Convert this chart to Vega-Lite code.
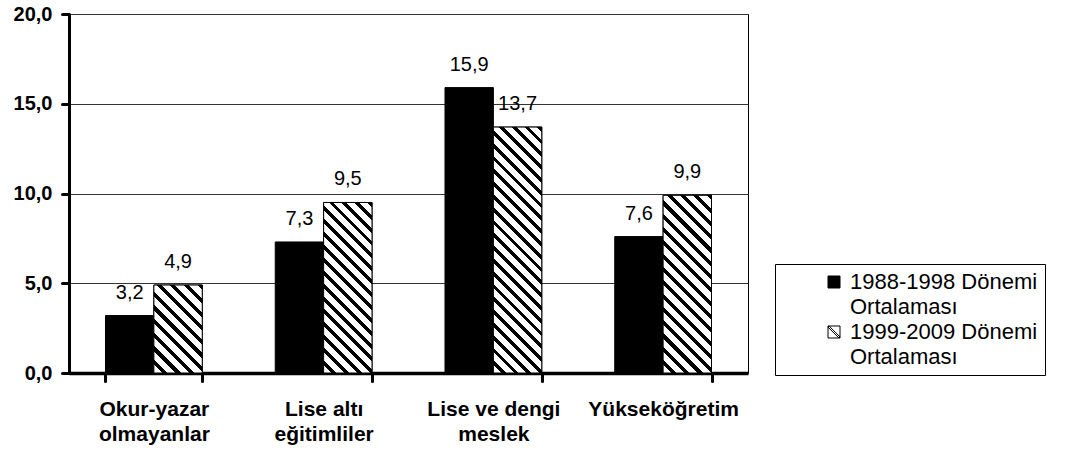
{
  "$schema": "https://vega.github.io/schema/vega-lite/v6.json",
  "width": 679,
  "height": 359,
  "autosize": {"type": "none"},
  "padding": {"left": 69, "top": 14, "right": 336, "bottom": 77},
  "background": "white",
  "config": {
    "locale": {"number": {"decimal": ",", "thousands": ".", "grouping": [3], "currency": ["", " TL"]}},
    "view": {"stroke": "black", "strokeWidth": 1},
    "font": "Liberation Sans"
  },
  "data": {
    "values": [
      {"cat": "Okur-yazar olmayanlar", "donem": "1988-1998 Dönemi Ortalaması", "value": 3.2},
      {"cat": "Okur-yazar olmayanlar", "donem": "1999-2009 Dönemi Ortalaması", "value": 4.9},
      {"cat": "Lise altı eğitimliler", "donem": "1988-1998 Dönemi Ortalaması", "value": 7.3},
      {"cat": "Lise altı eğitimliler", "donem": "1999-2009 Dönemi Ortalaması", "value": 9.5},
      {"cat": "Lise ve dengi meslek", "donem": "1988-1998 Dönemi Ortalaması", "value": 15.9},
      {"cat": "Lise ve dengi meslek", "donem": "1999-2009 Dönemi Ortalaması", "value": 13.7},
      {"cat": "Yükseköğretim", "donem": "1988-1998 Dönemi Ortalaması", "value": 7.6},
      {"cat": "Yükseköğretim", "donem": "1999-2009 Dönemi Ortalaması", "value": 9.9}
    ]
  },
  "encoding": {
    "x": {
      "field": "cat", "type": "nominal", "sort": null,
      "scale": {"paddingInner": 0.43, "paddingOuter": 0.215},
      "axis": {
        "title": null, "labelAngle": 0, "tickBand": "extent",
        "domainColor": "black", "domainWidth": 3.5,
        "tickColor": "black", "tickWidth": 3, "tickSize": 8, "tickCap": "round",
        "labelFont": "Liberation Sans", "labelFontSize": 21, "labelFontWeight": "bold", "labelColor": "black",
        "labelPadding": 17, "labelLineHeight": 25, "labelBaseline": "top",
        "labelExpr": "datum.label === 'Okur-yazar olmayanlar' ? ['Okur-yazar', 'olmayanlar'] : datum.label === 'Lise altı eğitimliler' ? ['Lise altı', 'eğitimliler'] : datum.label === 'Lise ve dengi meslek' ? ['Lise ve dengi', 'meslek'] : datum.label"
      }
    },
    "xOffset": {
      "field": "donem", "type": "nominal", "sort": null,
      "scale": {"domain": ["1988-1998 Dönemi Ortalaması", "1999-2009 Dönemi Ortalaması"], "paddingInner": 0, "paddingOuter": 0}
    },
    "y": {
      "field": "value", "type": "quantitative",
      "scale": {"domain": [0, 20], "nice": false},
      "axis": {
        "title": null, "values": [0, 5, 10, 15, 20], "format": ".1f",
        "domainColor": "black", "domainWidth": 3,
        "tickColor": "black", "tickWidth": 3, "tickSize": 7, "tickCap": "round",
        "labelFont": "Liberation Sans", "labelFontSize": 20, "labelFontWeight": "bold", "labelColor": "black",
        "labelPadding": 10,
        "grid": true, "gridColor": "#333", "gridWidth": 1
      }
    }
  },
  "layer": [
    {
      "mark": {"type": "bar", "stroke": "black", "strokeWidth": 1},
      "encoding": {
        "color": {
          "field": "donem", "type": "nominal",
          "scale": {
            "domain": ["1988-1998 Dönemi Ortalaması", "1999-2009 Dönemi Ortalaması"],
            "range": ["black", "white"]
          },
          "legend": {
            "orient": "none", "legendX": 706, "legendY": 250,
            "title": null,
            "symbolType": "M-1,-1H1V1H-1Z M-1,-0.82L-0.82,-1L1,0.82L0.82,1Z",
            "symbolSize": 144,
            "symbolStrokeColor": "black", "symbolStrokeWidth": 1,
            "symbolOffset": 41,
            "labelFont": "Liberation Sans", "labelFontSize": 22, "labelColor": "black",
            "labelOffset": 5, "labelLimit": 400,
            "labelExpr": "[slice(datum.label, 0, 16) + '\u00a0\u00a0\u00a0\u00a0\u00a0', 'Ortalaması']",
            "padding": 7, "strokeColor": "black", "fillColor": "white",
            "rowPadding": 3,
            "encode": {
              "labels": {
                "update": {"lineHeight": {"value": 25}}
              }
            }
          }
        }
      }
    },
    {
      "transform": [{"filter": "datum.donem === '1999-2009 Dönemi Ortalaması'"}],
      "mark": {"type": "bar", "stroke": "black", "strokeWidth": 1},
      "encoding": {
        "fill": {
          "condition": [
            {"test": "datum.cat === 'Okur-yazar olmayanlar'", "value": {"gradient": "linear", "x1": 0, "y1": 1, "x2": 0.65457, "y2": -0.19003, "stops": [
              {"offset": 0, "color": "#fff"},
              {"offset": 0.062, "color": "#fff"}, {"offset": 0.062, "color": "#000"}, {"offset": 0.1, "color": "#000"}, {"offset": 0.1, "color": "#fff"},
              {"offset": 0.162, "color": "#fff"}, {"offset": 0.162, "color": "#000"}, {"offset": 0.2, "color": "#000"}, {"offset": 0.2, "color": "#fff"},
              {"offset": 0.262, "color": "#fff"}, {"offset": 0.262, "color": "#000"}, {"offset": 0.3, "color": "#000"}, {"offset": 0.3, "color": "#fff"},
              {"offset": 0.362, "color": "#fff"}, {"offset": 0.362, "color": "#000"}, {"offset": 0.4, "color": "#000"}, {"offset": 0.4, "color": "#fff"},
              {"offset": 0.462, "color": "#fff"}, {"offset": 0.462, "color": "#000"}, {"offset": 0.5, "color": "#000"}, {"offset": 0.5, "color": "#fff"},
              {"offset": 0.562, "color": "#fff"}, {"offset": 0.562, "color": "#000"}, {"offset": 0.6, "color": "#000"}, {"offset": 0.6, "color": "#fff"},
              {"offset": 0.662, "color": "#fff"}, {"offset": 0.662, "color": "#000"}, {"offset": 0.7, "color": "#000"}, {"offset": 0.7, "color": "#fff"},
              {"offset": 0.762, "color": "#fff"}, {"offset": 0.762, "color": "#000"}, {"offset": 0.8, "color": "#000"}, {"offset": 0.8, "color": "#fff"},
              {"offset": 0.862, "color": "#fff"}, {"offset": 0.862, "color": "#000"}, {"offset": 0.9, "color": "#000"}, {"offset": 0.9, "color": "#fff"},
              {"offset": 0.962, "color": "#fff"}, {"offset": 0.962, "color": "#000"}, {"offset": 1, "color": "#000"}
            ]}},
            {"test": "datum.cat === 'Lise altı eğitimliler'", "value": {"gradient": "linear", "x1": 0, "y1": 1, "x2": 0.33707, "y2": -0.18809, "stops": [
              {"offset": 0, "color": "#fff"},
              {"offset": 0.0365, "color": "#fff"}, {"offset": 0.0365, "color": "#000"}, {"offset": 0.0588, "color": "#000"}, {"offset": 0.0588, "color": "#fff"},
              {"offset": 0.0953, "color": "#fff"}, {"offset": 0.0953, "color": "#000"}, {"offset": 0.1176, "color": "#000"}, {"offset": 0.1176, "color": "#fff"},
              {"offset": 0.1541, "color": "#fff"}, {"offset": 0.1541, "color": "#000"}, {"offset": 0.1765, "color": "#000"}, {"offset": 0.1765, "color": "#fff"},
              {"offset": 0.2129, "color": "#fff"}, {"offset": 0.2129, "color": "#000"}, {"offset": 0.2353, "color": "#000"}, {"offset": 0.2353, "color": "#fff"},
              {"offset": 0.2718, "color": "#fff"}, {"offset": 0.2718, "color": "#000"}, {"offset": 0.2941, "color": "#000"}, {"offset": 0.2941, "color": "#fff"},
              {"offset": 0.3306, "color": "#fff"}, {"offset": 0.3306, "color": "#000"}, {"offset": 0.3529, "color": "#000"}, {"offset": 0.3529, "color": "#fff"},
              {"offset": 0.3894, "color": "#fff"}, {"offset": 0.3894, "color": "#000"}, {"offset": 0.4118, "color": "#000"}, {"offset": 0.4118, "color": "#fff"},
              {"offset": 0.4482, "color": "#fff"}, {"offset": 0.4482, "color": "#000"}, {"offset": 0.4706, "color": "#000"}, {"offset": 0.4706, "color": "#fff"},
              {"offset": 0.5071, "color": "#fff"}, {"offset": 0.5071, "color": "#000"}, {"offset": 0.5294, "color": "#000"}, {"offset": 0.5294, "color": "#fff"},
              {"offset": 0.5659, "color": "#fff"}, {"offset": 0.5659, "color": "#000"}, {"offset": 0.5882, "color": "#000"}, {"offset": 0.5882, "color": "#fff"},
              {"offset": 0.6247, "color": "#fff"}, {"offset": 0.6247, "color": "#000"}, {"offset": 0.6471, "color": "#000"}, {"offset": 0.6471, "color": "#fff"},
              {"offset": 0.6835, "color": "#fff"}, {"offset": 0.6835, "color": "#000"}, {"offset": 0.7059, "color": "#000"}, {"offset": 0.7059, "color": "#fff"},
              {"offset": 0.7424, "color": "#fff"}, {"offset": 0.7424, "color": "#000"}, {"offset": 0.7647, "color": "#000"}, {"offset": 0.7647, "color": "#fff"},
              {"offset": 0.8012, "color": "#fff"}, {"offset": 0.8012, "color": "#000"}, {"offset": 0.8235, "color": "#000"}, {"offset": 0.8235, "color": "#fff"},
              {"offset": 0.86, "color": "#fff"}, {"offset": 0.86, "color": "#000"}, {"offset": 0.8824, "color": "#000"}, {"offset": 0.8824, "color": "#fff"},
              {"offset": 0.9188, "color": "#fff"}, {"offset": 0.9188, "color": "#000"}, {"offset": 0.9412, "color": "#000"}, {"offset": 0.9412, "color": "#fff"},
              {"offset": 0.9776, "color": "#fff"}, {"offset": 0.9776, "color": "#000"}, {"offset": 1, "color": "#000"}
            ]}},
            {"test": "datum.cat === 'Lise ve dengi meslek'", "value": {"gradient": "linear", "x1": 0, "y1": 1, "x2": 0.22667, "y2": -0.15215, "stops": [
              {"offset": 0, "color": "#fff"},
              {"offset": 0.027, "color": "#fff"}, {"offset": 0.027, "color": "#000"}, {"offset": 0.0435, "color": "#000"}, {"offset": 0.0435, "color": "#fff"},
              {"offset": 0.0704, "color": "#fff"}, {"offset": 0.0704, "color": "#000"}, {"offset": 0.087, "color": "#000"}, {"offset": 0.087, "color": "#fff"},
              {"offset": 0.1139, "color": "#fff"}, {"offset": 0.1139, "color": "#000"}, {"offset": 0.1304, "color": "#000"}, {"offset": 0.1304, "color": "#fff"},
              {"offset": 0.1574, "color": "#fff"}, {"offset": 0.1574, "color": "#000"}, {"offset": 0.1739, "color": "#000"}, {"offset": 0.1739, "color": "#fff"},
              {"offset": 0.2009, "color": "#fff"}, {"offset": 0.2009, "color": "#000"}, {"offset": 0.2174, "color": "#000"}, {"offset": 0.2174, "color": "#fff"},
              {"offset": 0.2443, "color": "#fff"}, {"offset": 0.2443, "color": "#000"}, {"offset": 0.2609, "color": "#000"}, {"offset": 0.2609, "color": "#fff"},
              {"offset": 0.2878, "color": "#fff"}, {"offset": 0.2878, "color": "#000"}, {"offset": 0.3043, "color": "#000"}, {"offset": 0.3043, "color": "#fff"},
              {"offset": 0.3313, "color": "#fff"}, {"offset": 0.3313, "color": "#000"}, {"offset": 0.3478, "color": "#000"}, {"offset": 0.3478, "color": "#fff"},
              {"offset": 0.3748, "color": "#fff"}, {"offset": 0.3748, "color": "#000"}, {"offset": 0.3913, "color": "#000"}, {"offset": 0.3913, "color": "#fff"},
              {"offset": 0.4183, "color": "#fff"}, {"offset": 0.4183, "color": "#000"}, {"offset": 0.4348, "color": "#000"}, {"offset": 0.4348, "color": "#fff"},
              {"offset": 0.4617, "color": "#fff"}, {"offset": 0.4617, "color": "#000"}, {"offset": 0.4783, "color": "#000"}, {"offset": 0.4783, "color": "#fff"},
              {"offset": 0.5052, "color": "#fff"}, {"offset": 0.5052, "color": "#000"}, {"offset": 0.5217, "color": "#000"}, {"offset": 0.5217, "color": "#fff"},
              {"offset": 0.5487, "color": "#fff"}, {"offset": 0.5487, "color": "#000"}, {"offset": 0.5652, "color": "#000"}, {"offset": 0.5652, "color": "#fff"},
              {"offset": 0.5922, "color": "#fff"}, {"offset": 0.5922, "color": "#000"}, {"offset": 0.6087, "color": "#000"}, {"offset": 0.6087, "color": "#fff"},
              {"offset": 0.6357, "color": "#fff"}, {"offset": 0.6357, "color": "#000"}, {"offset": 0.6522, "color": "#000"}, {"offset": 0.6522, "color": "#fff"},
              {"offset": 0.6791, "color": "#fff"}, {"offset": 0.6791, "color": "#000"}, {"offset": 0.6957, "color": "#000"}, {"offset": 0.6957, "color": "#fff"},
              {"offset": 0.7226, "color": "#fff"}, {"offset": 0.7226, "color": "#000"}, {"offset": 0.7391, "color": "#000"}, {"offset": 0.7391, "color": "#fff"},
              {"offset": 0.7661, "color": "#fff"}, {"offset": 0.7661, "color": "#000"}, {"offset": 0.7826, "color": "#000"}, {"offset": 0.7826, "color": "#fff"},
              {"offset": 0.8096, "color": "#fff"}, {"offset": 0.8096, "color": "#000"}, {"offset": 0.8261, "color": "#000"}, {"offset": 0.8261, "color": "#fff"},
              {"offset": 0.853, "color": "#fff"}, {"offset": 0.853, "color": "#000"}, {"offset": 0.8696, "color": "#000"}, {"offset": 0.8696, "color": "#fff"},
              {"offset": 0.8965, "color": "#fff"}, {"offset": 0.8965, "color": "#000"}, {"offset": 0.913, "color": "#000"}, {"offset": 0.913, "color": "#fff"},
              {"offset": 0.94, "color": "#fff"}, {"offset": 0.94, "color": "#000"}, {"offset": 0.9565, "color": "#000"}, {"offset": 0.9565, "color": "#fff"},
              {"offset": 0.9835, "color": "#fff"}, {"offset": 0.9835, "color": "#000"}, {"offset": 1, "color": "#000"}
            ]}}
          ],
          "value": {"gradient": "linear", "x1": 0, "y1": 1, "x2": 0.32247, "y2": -0.18446, "stops": [
            {"offset": 0, "color": "#fff"},
            {"offset": 0.0365, "color": "#fff"}, {"offset": 0.0365, "color": "#000"}, {"offset": 0.0588, "color": "#000"}, {"offset": 0.0588, "color": "#fff"},
            {"offset": 0.0953, "color": "#fff"}, {"offset": 0.0953, "color": "#000"}, {"offset": 0.1176, "color": "#000"}, {"offset": 0.1176, "color": "#fff"},
            {"offset": 0.1541, "color": "#fff"}, {"offset": 0.1541, "color": "#000"}, {"offset": 0.1765, "color": "#000"}, {"offset": 0.1765, "color": "#fff"},
            {"offset": 0.2129, "color": "#fff"}, {"offset": 0.2129, "color": "#000"}, {"offset": 0.2353, "color": "#000"}, {"offset": 0.2353, "color": "#fff"},
            {"offset": 0.2718, "color": "#fff"}, {"offset": 0.2718, "color": "#000"}, {"offset": 0.2941, "color": "#000"}, {"offset": 0.2941, "color": "#fff"},
            {"offset": 0.3306, "color": "#fff"}, {"offset": 0.3306, "color": "#000"}, {"offset": 0.3529, "color": "#000"}, {"offset": 0.3529, "color": "#fff"},
            {"offset": 0.3894, "color": "#fff"}, {"offset": 0.3894, "color": "#000"}, {"offset": 0.4118, "color": "#000"}, {"offset": 0.4118, "color": "#fff"},
            {"offset": 0.4482, "color": "#fff"}, {"offset": 0.4482, "color": "#000"}, {"offset": 0.4706, "color": "#000"}, {"offset": 0.4706, "color": "#fff"},
            {"offset": 0.5071, "color": "#fff"}, {"offset": 0.5071, "color": "#000"}, {"offset": 0.5294, "color": "#000"}, {"offset": 0.5294, "color": "#fff"},
            {"offset": 0.5659, "color": "#fff"}, {"offset": 0.5659, "color": "#000"}, {"offset": 0.5882, "color": "#000"}, {"offset": 0.5882, "color": "#fff"},
            {"offset": 0.6247, "color": "#fff"}, {"offset": 0.6247, "color": "#000"}, {"offset": 0.6471, "color": "#000"}, {"offset": 0.6471, "color": "#fff"},
            {"offset": 0.6835, "color": "#fff"}, {"offset": 0.6835, "color": "#000"}, {"offset": 0.7059, "color": "#000"}, {"offset": 0.7059, "color": "#fff"},
            {"offset": 0.7424, "color": "#fff"}, {"offset": 0.7424, "color": "#000"}, {"offset": 0.7647, "color": "#000"}, {"offset": 0.7647, "color": "#fff"},
            {"offset": 0.8012, "color": "#fff"}, {"offset": 0.8012, "color": "#000"}, {"offset": 0.8235, "color": "#000"}, {"offset": 0.8235, "color": "#fff"},
            {"offset": 0.86, "color": "#fff"}, {"offset": 0.86, "color": "#000"}, {"offset": 0.8824, "color": "#000"}, {"offset": 0.8824, "color": "#fff"},
            {"offset": 0.9188, "color": "#fff"}, {"offset": 0.9188, "color": "#000"}, {"offset": 0.9412, "color": "#000"}, {"offset": 0.9412, "color": "#fff"},
            {"offset": 0.9776, "color": "#fff"}, {"offset": 0.9776, "color": "#000"}, {"offset": 1, "color": "#000"}
          ]}
        }
      }
    },
    {
      "mark": {"type": "text", "dy": -13, "baseline": "bottom", "align": "center", "fontSize": 20, "font": "Liberation Sans", "color": "black"},
      "encoding": {
        "text": {"field": "value", "type": "quantitative", "format": ".1f"}
      }
    }
  ]
}
